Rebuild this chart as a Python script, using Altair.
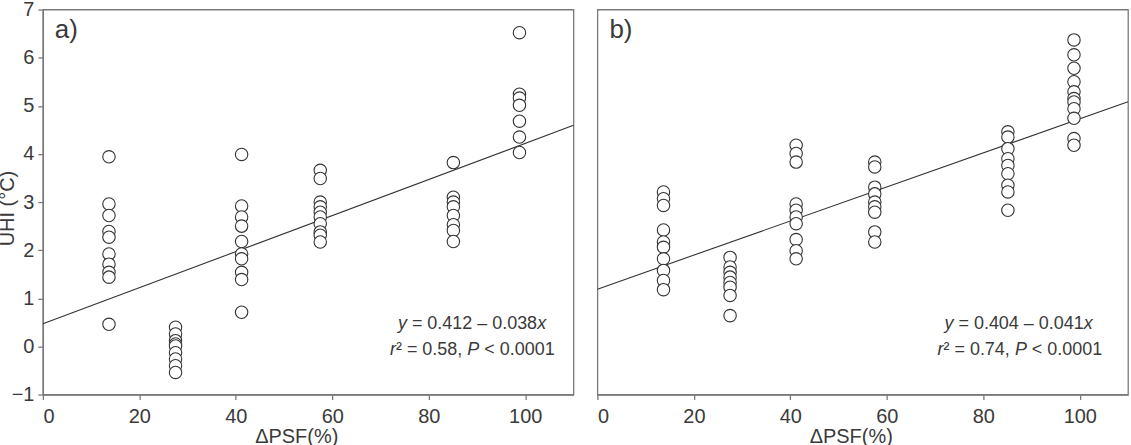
import altair as alt
import pandas as pd

# x positions of the six ΔPSF groups (%)
x_groups = [13.7, 27.5, 41.2, 57.5, 85.1, 98.8]

# panel a) UHI values per group
a_g1 = [3.94, 2.96, 2.72, 2.39, 2.27, 1.92, 1.71, 1.54, 1.44, 0.46]
a_g2 = [0.40, 0.26, 0.12, 0.05, 0.01, -0.13, -0.26, -0.40, -0.54]
a_g3 = [3.99, 2.92, 2.69, 2.50, 2.18, 1.92, 1.82, 1.54, 1.39, 0.71]
a_g4 = [3.66, 3.49, 3.00, 2.90, 2.79, 2.69, 2.55, 2.38, 2.31, 2.17]
a_g5 = [3.82, 3.10, 3.00, 2.90, 2.72, 2.53, 2.41, 2.18]
a_g6 = [6.52, 5.24, 5.16, 5.01, 4.68, 4.35, 4.03]

# panel b) UHI values per group
b_g1 = [3.21, 3.07, 2.93, 2.42, 2.17, 2.06, 1.82, 1.58, 1.37, 1.18]
b_g2 = [1.85, 1.65, 1.54, 1.44, 1.33, 1.23, 1.06, 0.64]
b_g3 = [4.18, 4.01, 3.83, 2.96, 2.83, 2.69, 2.55, 2.22, 1.99, 1.82]
b_g4 = [3.83, 3.73, 3.31, 3.17, 3.00, 2.90, 2.79, 2.38, 2.17]
b_g5 = [4.46, 4.35, 4.11, 3.90, 3.76, 3.59, 3.35, 3.21, 2.83]
b_g6 = [6.37, 6.06, 5.78, 5.50, 5.29, 5.15, 5.08, 4.94, 4.74, 4.32, 4.18]

# fitted lines as drawn (intercept, slope)
fit_a = (0.47, 0.0375)
fit_b = (1.19, 0.0354)
x_range = [0, 110]

x_ticks = [0, 20, 40, 60, 80, 100]
y_ticks = [-1, 0, 1, 2, 3, 4, 5, 6, 7]

FONT = "Liberation Sans"
TXT = "#3a3a3a"
LINE = "#7a7a7a"
W, H = 532, 386


def points_df(groups):
    rows = []
    for xv, vals in zip(x_groups, groups):
        for v in vals:
            rows.append({"x": xv, "y": v})
    return pd.DataFrame(rows)


def line_df(fit):
    b0, b1 = fit
    return pd.DataFrame({"x": x_range, "y": [b0 + b1 * xv for xv in x_range]})


def panel(groups, fit, label, eq1, r2, first, l1, l2):
    xs = alt.Scale(domain=[0, 110], nice=False, zero=False)
    ys = alt.Scale(domain=[-1, 7], nice=False, zero=False)
    xaxis = alt.Axis(values=x_ticks, title="ΔPSF(%)", grid=False, tickSize=5,
                     labelFontSize=20, titleFontSize=20, labelPadding=7,
                     titlePadding=0, titleX=254)
    if first:
        yaxis = alt.Axis(values=y_ticks, title="UHI (°C)", grid=False, tickSize=5,
                         labelFontSize=20, titleFontSize=20, labelPadding=4,
                         titleX=-35, titleY=199, titleBaseline="middle")
    else:
        yaxis = alt.Axis(values=y_ticks, title=None, grid=False, ticks=False,
                         labels=False, domain=False)
    pts = alt.Chart(points_df(groups)).mark_point(
        shape="circle", size=155, filled=False, stroke="#333333", strokeWidth=1.1,
        fill="white", fillOpacity=1, opacity=1
    ).encode(x=alt.X("x:Q", scale=xs, axis=xaxis), y=alt.Y("y:Q", scale=ys, axis=yaxis))
    ln = alt.Chart(line_df(fit)).mark_line(color="#333333", strokeWidth=1.1).encode(
        x=alt.X("x:Q", scale=xs, axis=xaxis), y=alt.Y("y:Q", scale=ys, axis=yaxis))
    base = alt.Chart(pd.DataFrame({"k": [0]}))
    def txt(s, xpx, ypx, italic=False, size=18):
        return base.mark_text(text=s, align="left", baseline="middle", font=FONT,
                              fontSize=size, color=TXT,
                              fontStyle="italic" if italic else "normal").encode(
            x=alt.value(xpx), y=alt.value(ypx))
    layers = [ln, pts,
              txt(label, 12, 21, size=26),
              txt("y", l1, 315, True),
              txt(eq1, l1 + 14, 315),
              txt("x", l1 + 139.6, 315, True),
              txt("r", l2, 341, True),
              txt("² = " + r2 + ",", l2 + 6, 341),
              txt("P", l2 + 77.6, 341, True),
              txt("< 0.0001", l2 + 94.6, 341)]
    return alt.layer(*layers).properties(width=W, height=H)


pa = panel([a_g1, a_g2, a_g3, a_g4, a_g5, a_g6], fit_a, "a)", "= 0.412 – 0.038", "0.58", True, 356, 348)
pb = panel([b_g1, b_g2, b_g3, b_g4, b_g5, b_g6], fit_b, "b)", "= 0.404 – 0.041", "0.74", False, 348, 341)

chart = alt.hconcat(pa, pb, spacing=18,
                    padding={"left": -3, "top": -2, "right": 0, "bottom": 0}).configure(
    font=FONT).configure_view(
    stroke=LINE, strokeWidth=1.3).configure_axis(
    domainColor=LINE, tickColor=LINE, labelColor=TXT, titleColor=TXT,
    labelFont=FONT, titleFont=FONT, titleFontWeight="normal", domainWidth=1.3,
    tickWidth=1.3
)

chart.save("out.html", embed_options={"renderer": "svg", "actions": False})
